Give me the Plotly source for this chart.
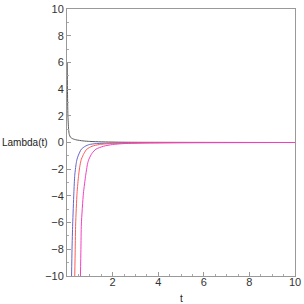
import plotly.graph_objects as go

# Data
t_gray = [0.01, 0.02, 0.04, 0.07, 0.1, 0.15, 0.25, 0.4, 0.7, 1.0, 1.5, 2.5, 5, 10]
v_gray = [6.0, 4.0, 2.0, 1.0, 0.6, 0.4, 0.28, 0.2, 0.12, 0.08, 0.05, 0.02, 0.01, 0.0]

t_blue = [0.2, 0.22, 0.25, 0.3, 0.34, 0.4, 0.44, 0.5, 0.63, 0.8, 0.98, 1.3, 2, 3, 5, 10]
v_blue = [-10, -8, -6.1, -3.8, -2.45, -1.6, -1.25, -0.95, -0.5, -0.28, -0.15, -0.08, -0.04, -0.02, -0.01, 0]

t_red = [0.34, 0.36, 0.38, 0.44, 0.51, 0.57, 0.63, 0.75, 0.87, 1.1, 1.42, 2, 3, 5, 10]
v_red = [-10, -8, -6.1, -3.8, -2.45, -1.7, -1.25, -0.8, -0.5, -0.28, -0.15, -0.07, -0.03, -0.01, 0]

t_mag = [0.59, 0.61, 0.63, 0.72, 0.82, 0.9, 0.96, 1.1, 1.27, 1.6, 2.0, 2.5, 3.5, 5, 10]
v_mag = [-10, -8, -6.1, -3.8, -2.45, -1.6, -1.25, -0.8, -0.5, -0.28, -0.15, -0.08, -0.03, -0.01, 0]

x_ticks = [2, 4, 6, 8, 10]
y_ticks = [-10, -8, -6, -4, -2, 0, 2, 4, 6, 8, 10]

fig = go.Figure()
for tt, vv, col in [(t_gray, v_gray, "#5a5a5a"),
                    (t_blue, v_blue, "#6464c8"),
                    (t_red, v_red, "#ff5a5a"),
                    (t_mag, v_mag, "#f040c0")]:
    fig.add_trace(go.Scatter(x=tt, y=vv, mode="lines",
                             line=dict(color=col, width=1, shape="spline", smoothing=0.6),
                             showlegend=False, hoverinfo="skip"))

font = dict(family="Liberation Sans, Arial, sans-serif", size=11, color="#333333")
axis_common = dict(showgrid=False, zeroline=False, showline=True, linecolor="#999999", linewidth=1,
                   mirror=True, ticks="inside", ticklen=4, tickcolor="#999999",
                   tickfont=font, ticklabeloverflow="allow",
                   minor=dict(ticks="inside", ticklen=2, tickcolor="#aaaaaa", nticks=5))

fig.update_xaxes(range=[0, 10], tickvals=x_ticks, ticklabelstandoff=-4, **axis_common)
fig.update_yaxes(range=[-10, 10], tickvals=y_ticks, **axis_common)

fig.add_annotation(text="Lambda(t)", xref="paper", yref="paper", x=(50 - 67) / 233, y=(276 - 140) / 273,
                   xanchor="right", yanchor="middle", showarrow=False,
                   font=dict(family="Liberation Sans, Arial, sans-serif", size=10, color="#222222"))
fig.add_annotation(text="t", xref="paper", yref="paper", x=0.5, y=-(299 - 276) / 273,
                   xanchor="center", yanchor="middle", showarrow=False,
                   font=dict(family="Liberation Sans, Arial, sans-serif", size=10, color="#222222"))

fig.update_layout(width=304, height=304, margin=dict(l=67, r=4, t=3, b=28),
                  plot_bgcolor="white", paper_bgcolor="white")
fig.write_html("out.html", config={"displayModeBar": False},
               post_script="document.body.style.margin='0';")
